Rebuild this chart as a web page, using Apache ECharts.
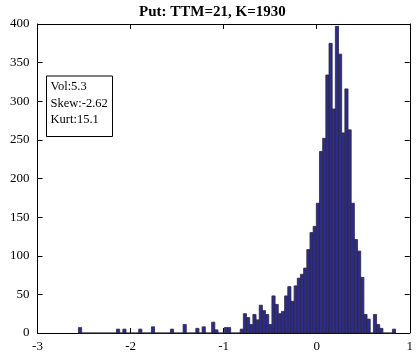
<!DOCTYPE html>
<html><head><meta charset="utf-8">
<script src="https://cdn.jsdelivr.net/npm/echarts@6/dist/echarts.min.js"></script>
<style>html,body{margin:0;padding:0;background:#fff}#c{width:416px;height:353px}</style>
</head><body><div id="c"></div>
<script>
// ---- data ----
const titleText = 'Put: TTM=21, K=1930';
const statsLines = ['Vol:5.3', 'Skew:-2.62', 'Kurt:15.1'];
const binMin = -2.56;
const binMax = 0.848;
const counts = [
  7, 0, 0, 0, 0, 0, 0, 0, 0, 0,
  0, 0, 5, 0, 5, 0, 0, 0, 0, 5,
  0, 0, 0, 8, 0, 0, 0, 0, 0, 5,
  0, 0, 0, 11, 0, 0, 0, 6, 0, 8,
  0, 0, 14, 4, 0, 0, 7, 7, 0, 0,
  0, 5, 25, 20, 11, 24, 17, 36, 29, 24,
  11, 48, 37, 25, 28, 48, 60, 41, 61, 71,
  76, 84, 108, 130, 138, 168, 235, 252, 334, 375,
  290, 397, 361, 259, 316, 263, 168, 121, 106, 72,
  24, 18, 0, 24, 11, 6, 0, 0, 0, 5
];
const xTicks = [-3, -2, -1, 0, 1];
const yTicks = [0, 50, 100, 150, 200, 250, 300, 350, 400];

// ---- build ----
const nBins = counts.length;
const binW = (binMax - binMin) / nBins;
const barData = counts.map((c, i) => [binMin + i * binW, binMin + (i + 1) * binW, c]);

const font = "'Liberation Serif','Times New Roman',serif";
const chart = echarts.init(document.getElementById('c'), null, {renderer: 'canvas'});

function xAxisDef(pos, showLabel) {
  return {
    type: 'value', position: pos, min: xTicks[0], max: xTicks[xTicks.length - 1], interval: 1,
    axisLine: {show: true, onZero: false, lineStyle: {color: '#000', width: 1}},
    axisTick: {show: true, inside: true, length: 5, lineStyle: {color: '#000', width: 1}},
    axisLabel: {show: showLabel, color: '#000', fontFamily: font, fontSize: 13, margin: 7},
    splitLine: {show: false}
  };
}
function yAxisDef(pos, showLabel) {
  return {
    type: 'value', position: pos, min: yTicks[0], max: yTicks[yTicks.length - 1], interval: 50,
    axisLine: {show: true, onZero: false, lineStyle: {color: '#000', width: 1}},
    axisTick: {show: true, inside: true, length: 5, lineStyle: {color: '#000', width: 1}},
    axisLabel: {show: showLabel, color: '#000', fontFamily: font, fontSize: 13, margin: 8},
    splitLine: {show: false}
  };
}

const option = {
  animation: false,
  backgroundColor: '#fff',
  grid: {left: 37.5, right: 1.5, top: 24, bottom: 18.5, containLabel: false},
  xAxis: [xAxisDef('bottom', true), xAxisDef('top', false)],
  yAxis: [yAxisDef('left', true), yAxisDef('right', false)],
  series: [{
    type: 'custom',
    xAxisIndex: 0, yAxisIndex: 0,
    data: barData,
    encode: {x: [0, 1], y: 2},
    renderItem: function (params, api) {
      const p0 = api.coord([api.value(0), api.value(2)]);
      const p1 = api.coord([api.value(1), 0]);
      return {
        type: 'rect',
        shape: {x: p0[0], y: p0[1], width: p1[0] - p0[0], height: p1[1] - p0[1]},
        style: {fill: '#2e2b8c', stroke: '#2a2a3a', lineWidth: 0.8}
      };
    }
  }],
  graphic: [
    {type: 'text', left: 139, top: 5, style: {text: titleText, font: "bold 15px " + font, fill: '#000'}},
    {type: 'rect', shape: {x: 46.5, y: 76, width: 66, height: 60.5}, style: {fill: '#fff', stroke: '#000', lineWidth: 1}},
    {type: 'text', x: 50.5, y: 87, style: {text: statsLines[0], font: "12.5px " + font, fill: '#000', verticalAlign: 'middle'}},
    {type: 'text', x: 50.5, y: 103.5, style: {text: statsLines[1], font: "12.5px " + font, fill: '#000', verticalAlign: 'middle'}},
    {type: 'text', x: 50.5, y: 120, style: {text: statsLines[2], font: "12.5px " + font, fill: '#000', verticalAlign: 'middle'}}
  ]
};
chart.setOption(option);
</script></body></html>
